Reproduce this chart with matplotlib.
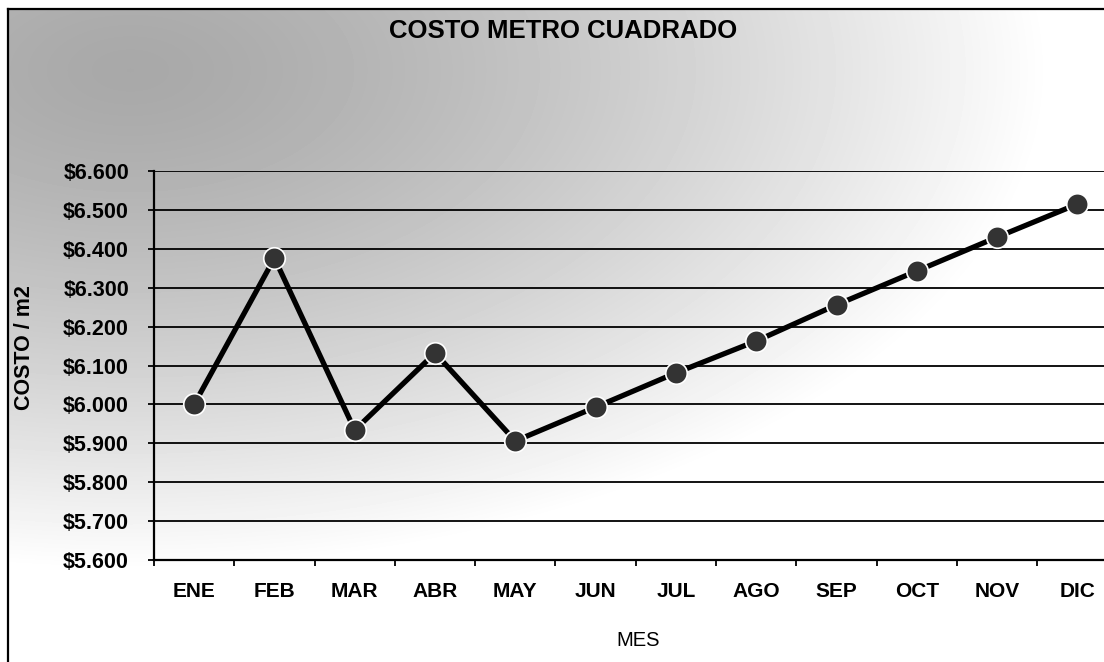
import numpy as np
import matplotlib
matplotlib.use("Agg")
import matplotlib.pyplot as plt
from matplotlib.ticker import FuncFormatter, FixedLocator

# ── data ───────────────────────────────────────────────────────────────────────
meses = ["ENE", "FEB", "MAR", "ABR", "MAY", "JUN",
         "JUL", "AGO", "SEP", "OCT", "NOV", "DIC"]
costo = [6000, 6376, 5934, 6132, 5906, 5993,
         6081, 6163, 6256, 6343, 6430, 6515]
y_ticks = [5600, 5700, 5800, 5900, 6000, 6100, 6200, 6300, 6400, 6500, 6600]

W, H = 1104, 662
plt.rcParams["font.family"] = ["Liberation Sans", "DejaVu Sans"]

fig = plt.figure(figsize=(W / 100, H / 100), dpi=100)
fig.patch.set_facecolor("white")

# ── gradient background (inside frame starting at x=8, y=9) ───────────────────
bx0, by0 = 8, 9
bg = fig.add_axes([bx0 / W, 0, 1 - bx0 / W, 1 - by0 / H])
bg.set_axis_off()
xs = np.arange(bx0, W)
ys = np.arange(by0, H)
X, Y = np.meshgrid(xs, ys)
r = np.sqrt(((X - 130) / 920) ** 2 + ((Y - 70) / 500) ** 2)
v = 0.66 + 0.34 * np.clip(r, 0, 1) ** 1.4
bg.imshow(v, cmap="gray", vmin=0, vmax=1, aspect="auto",
          extent=[0, 1, 0, 1], interpolation="bilinear")
bg.set_xlim(0, 1); bg.set_ylim(0, 1)

# frame lines (left + top)
fig.add_artist(plt.Line2D([bx0 / W, bx0 / W], [0, 1 - by0 / H],
                          transform=fig.transFigure, color="black", lw=1.6))
fig.add_artist(plt.Line2D([bx0 / W, 1], [1 - by0 / H, 1 - by0 / H],
                          transform=fig.transFigure, color="black", lw=1.6))

# ── main axes ─────────────────────────────────────────────────────────────────
x0, x1 = 154, 154 + 12 * 80.3
yt, yb = 171, 560
ax = fig.add_axes([x0 / W, 1 - yb / H, (x1 - x0) / W, (yb - yt) / H])
ax.patch.set_alpha(0)

xpos = np.arange(len(meses))
ax.plot(xpos, costo, color="black", lw=3.8, zorder=3, solid_capstyle="round",
        marker="o", markersize=15.5, markerfacecolor="#333333",
        markeredgecolor="white", markeredgewidth=1.2)

ax.set_xlim(-0.5, len(meses) - 0.5)
ax.set_ylim(y_ticks[0], y_ticks[-1])

# horizontal gridlines
ax.set_yticks(y_ticks)
ax.yaxis.grid(True, color="black", lw=1.3)
ax.set_axisbelow(True)

fmt = FuncFormatter(lambda val, pos: "$" + f"{val:,.0f}".replace(",", "."))
ax.yaxis.set_major_formatter(fmt)
ax.tick_params(axis="y", length=4.5, width=1.3, pad=13.5, labelsize=15.5)
for t in ax.get_yticklabels():
    t.set_fontweight("bold")

# x ticks at category boundaries, labels at centres
ax.xaxis.set_major_locator(FixedLocator(np.arange(-0.5, len(meses), 1.0)))
ax.xaxis.set_major_formatter(FuncFormatter(lambda v_, p: ""))
ax.xaxis.set_minor_locator(FixedLocator(xpos))
ax.set_xticklabels(meses, minor=True)
ax.tick_params(axis="x", which="major", length=4.5, width=1.3)
ax.tick_params(axis="x", which="minor", length=0, pad=16, labelsize=15)
for t in ax.get_xticklabels(minor=True):
    t.set_fontweight("bold")

for s in ("top", "right"):
    ax.spines[s].set_visible(False)
for s in ("left", "bottom"):
    ax.spines[s].set_linewidth(1.6)

# ── texts ─────────────────────────────────────────────────────────────────────
fig.text(563 / W, 1 - 31 / H, "COSTO METRO CUADRADO", ha="center", va="center",
         fontsize=18.5, fontweight="bold")
fig.text(25 / W, 1 - 348 / H, "COSTO / m2", ha="center", va="center",
         rotation=90, fontsize=15.5, fontweight="bold")
fig.text(638 / W, 1 - 640 / H, "MES", ha="center", va="center", fontsize=14.5)

fig.savefig("out.png", dpi=100)
